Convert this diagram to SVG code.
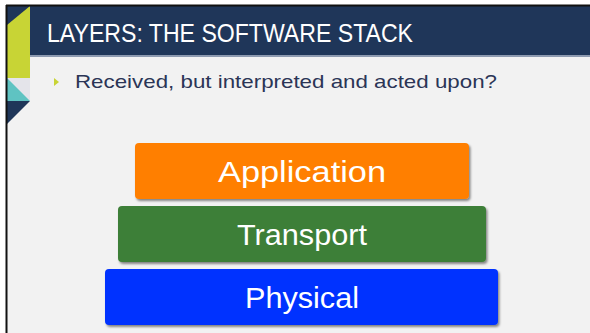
<svg xmlns="http://www.w3.org/2000/svg" width="590" height="333" viewBox="0 0 590 333">
<defs>
<filter id="sh" x="-5%" y="-20%" width="110%" height="150%">
<feDropShadow dx="1.5" dy="2" stdDeviation="1.2" flood-color="#000" flood-opacity="0.45"/>
</filter>
<style>
.lbl{font-family:"Liberation Sans",Arial,sans-serif;fill:#ffffff;text-anchor:middle;font-size:29px}
.ttl{font-family:"Liberation Sans",Arial,sans-serif;fill:#ffffff;font-size:25px}
.bul{font-family:"Liberation Sans",Arial,sans-serif;fill:#2b3556;font-size:19px}
</style>
</defs>
<rect x="0" y="0" width="590" height="333" fill="#ffffff"/>
<rect x="7" y="6" width="583" height="327" fill="#f2f2f2"/>
<g id="header">
<rect x="30" y="6" width="560" height="49" fill="#1f3659"/>
<rect x="30" y="55" width="560" height="2" fill="#8d9ab0"/>
<text class="ttl" x="47" y="42" textLength="366" lengthAdjust="spacingAndGlyphs">LAYERS: THE SOFTWARE STACK</text>
</g>
<g id="decor">
<rect x="7" y="6" width="23" height="72" fill="#1f3659"/>
<polygon points="30,6 30,78 7,78 7,25" fill="#c8d435"/>
<rect x="7" y="78" width="23" height="23" fill="#e4e4ea"/>
<polygon points="7,78 30,101 7,101" fill="#5fc3c2"/>
<polygon points="7,101 30,101 7,124" fill="#1f3659"/>
</g>
<line x1="6.5" y1="5" x2="6.5" y2="333" stroke="#111" stroke-width="2"/>
<line x1="6" y1="5.5" x2="590" y2="5.5" stroke="#111" stroke-width="2"/>
<g id="bullet">
<polygon points="54,78 59,82 54,86" fill="#c8d435"/>
<text class="bul" x="75" y="88" textLength="422" lengthAdjust="spacingAndGlyphs">Received, but interpreted and acted upon?</text>
</g>
<g id="application">
<rect x="135" y="143" width="334" height="56" rx="4" fill="#ff7f00" filter="url(#sh)"/>
<text class="lbl" x="302" y="182" textLength="168" lengthAdjust="spacingAndGlyphs">Application</text>
</g>
<g id="transport">
<rect x="118" y="206" width="368" height="56" rx="4" fill="#3c7f37" filter="url(#sh)"/>
<text class="lbl" x="302" y="245" textLength="130" lengthAdjust="spacingAndGlyphs">Transport</text>
</g>
<g id="physical">
<rect x="105" y="269" width="393" height="56" rx="4" fill="#0033ff" filter="url(#sh)"/>
<text class="lbl" x="302" y="308" textLength="114" lengthAdjust="spacingAndGlyphs">Physical</text>
</g>
<g id="connectors"/>
</svg>
